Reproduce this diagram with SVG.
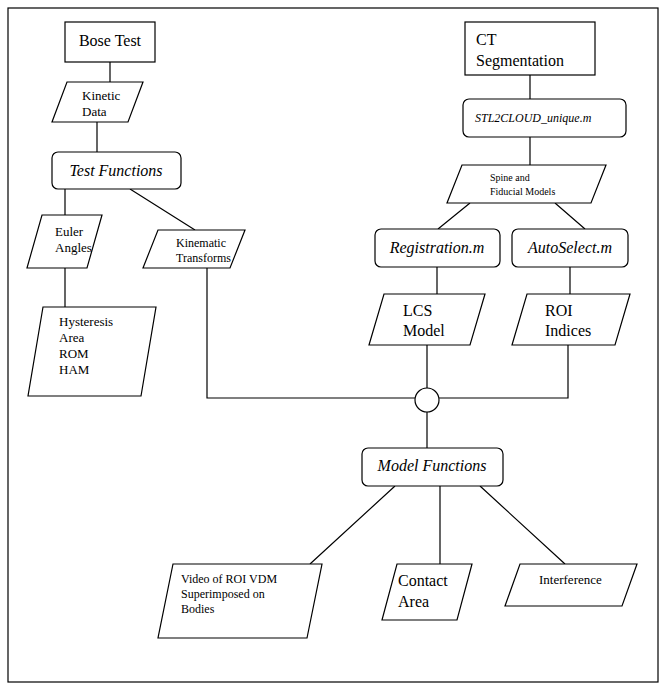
<svg xmlns="http://www.w3.org/2000/svg" width="668" height="692" viewBox="0 0 668 692">
<style>
.s{fill:#fff;stroke:#000;stroke-width:1.2}
.t{font-family:"Liberation Serif",serif;fill:#000}
.c{fill:none;stroke:#000;stroke-width:1.2}
</style>
<rect x="0" y="0" width="668" height="692" fill="#fff"/>
<rect x="8" y="8" width="650" height="674" class="c"/>
<g id="connectors">
<path class="c" d="M110 62V82M97 122V152M65 189V215M130 189L195 230M65 268V307M207 268V398H415M427 345V388M568 345V398H439M427 412V448M395 486L310 564M440 486V564M480 486L565 564M530 75V99M530 137V165M470 203L438 229M555 203L585 229M437 267V294M570 267V294"/>
</g>
<g id="bose"><rect class="s" x="65" y="22" width="90" height="40"/><text class="t" x="110" y="46" font-size="16" text-anchor="middle">Bose Test</text></g>
<g id="kinetic"><polygon class="s" points="67,82 143,82 128,122 52,122"/><text class="t" x="82" y="100" font-size="13">Kinetic</text><text class="t" x="82" y="116" font-size="13">Data</text></g>
<g id="testfn"><rect class="s" x="52" y="152" width="129" height="37" rx="6"/><text class="t" x="116" y="176" font-size="16" font-style="italic" text-anchor="middle">Test Functions</text></g>
<g id="euler"><polygon class="s" points="42,215 102,215 87,268 27,268"/><text class="t" x="55" y="236" font-size="13">Euler</text><text class="t" x="55" y="252" font-size="13">Angles</text></g>
<g id="kinematic"><polygon class="s" points="158,230 245,230 230,268 143,268"/><text class="t" x="176" y="247" font-size="12">Kinematic</text><text class="t" x="176" y="262" font-size="12">Transforms</text></g>
<g id="hysteresis"><polygon class="s" points="43,307 156,307 141,396 28,396"/><text class="t" x="59" y="326" font-size="13">Hysteresis</text><text class="t" x="59" y="342" font-size="13">Area</text><text class="t" x="59" y="358" font-size="13">ROM</text><text class="t" x="59" y="374" font-size="13">HAM</text></g>
<g id="ct"><rect class="s" x="465" y="22" width="130" height="53"/><text class="t" x="476" y="45" font-size="16">CT</text><text class="t" x="476" y="66" font-size="16">Segmentation</text></g>
<g id="stl"><rect class="s" x="463" y="99" width="163" height="38" rx="6"/><text class="t" x="475" y="122" font-size="12" font-style="italic">STL2CLOUD_unique.m</text></g>
<g id="spine"><polygon class="s" points="462,165 606,165 591,203 447,203"/><text class="t" x="490" y="181" font-size="10">Spine and</text><text class="t" x="490" y="195" font-size="10">Fiducial Models</text></g>
<g id="registration"><rect class="s" x="375" y="229" width="125" height="38" rx="6"/><text class="t" x="437" y="253" font-size="16" font-style="italic" text-anchor="middle">Registration.m</text></g>
<g id="autoselect"><rect class="s" x="512" y="229" width="116" height="38" rx="6"/><text class="t" x="570" y="253" font-size="16" font-style="italic" text-anchor="middle">AutoSelect.m</text></g>
<g id="lcs"><polygon class="s" points="384,294 485,294 470,345 369,345"/><text class="t" x="403" y="316" font-size="16">LCS</text><text class="t" x="403" y="336" font-size="16">Model</text></g>
<g id="roi"><polygon class="s" points="527,294 630,294 615,345 512,345"/><text class="t" x="545" y="316" font-size="16">ROI</text><text class="t" x="545" y="336" font-size="16">Indices</text></g>
<g id="junction"><circle class="s" cx="427" cy="400" r="12"/></g>
<g id="modelfn"><rect class="s" x="362" y="448" width="141" height="38" rx="6"/><text class="t" x="432" y="471" font-size="16" font-style="italic" text-anchor="middle">Model Functions</text></g>
<g id="video"><polygon class="s" points="173,564 322,564 307,638 158,638"/><text class="t" x="181" y="583" font-size="12">Video of ROI VDM</text><text class="t" x="181" y="598" font-size="12">Superimposed on</text><text class="t" x="181" y="613" font-size="12">Bodies</text></g>
<g id="contact"><polygon class="s" points="397,564 472,564 457,620 382,620"/><text class="t" x="398" y="586" font-size="16">Contact</text><text class="t" x="398" y="607" font-size="16">Area</text></g>
<g id="interference"><polygon class="s" points="520,564 637,564 622,606 505,606"/><text class="t" x="539" y="584" font-size="13">Interference</text></g>
</svg>
